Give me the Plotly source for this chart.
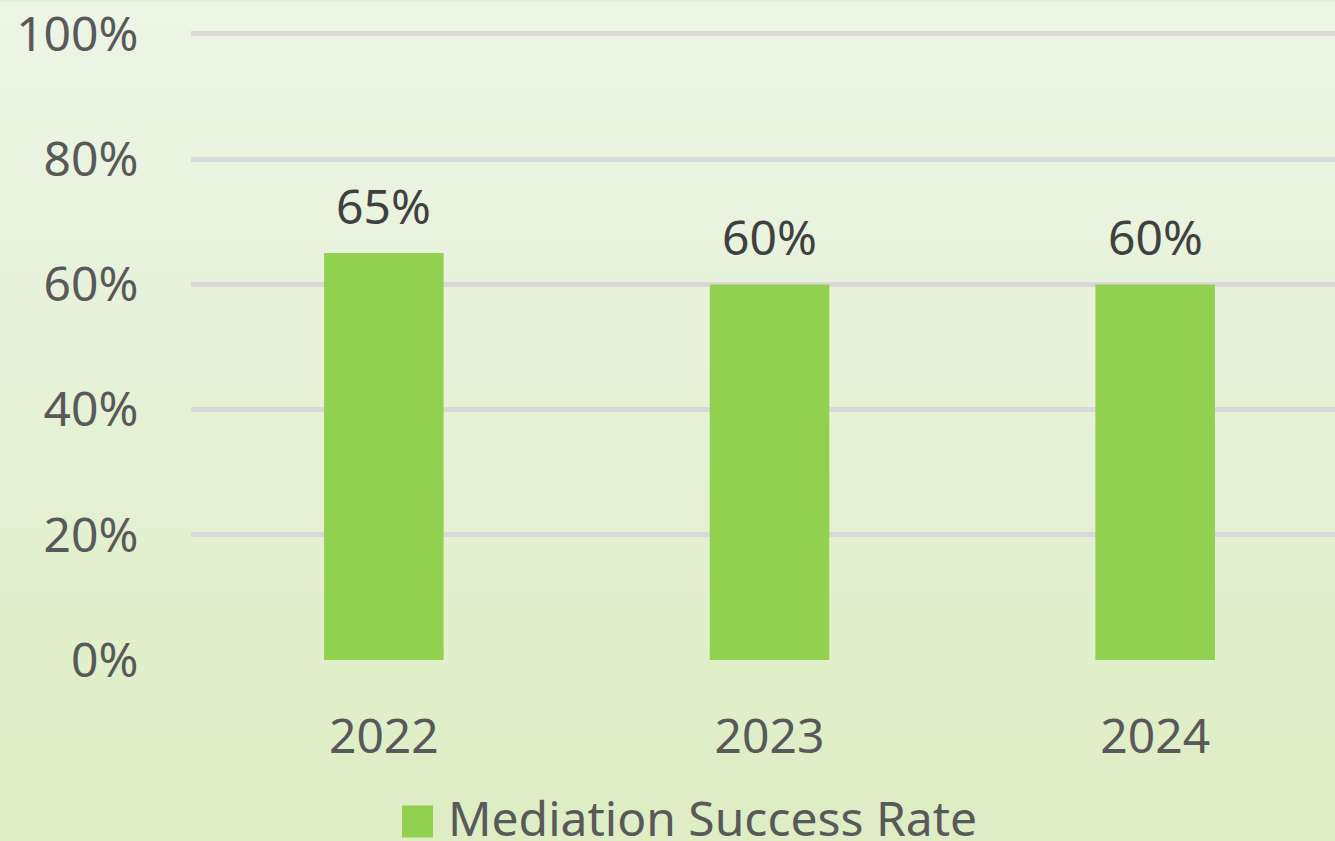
import plotly.graph_objects as go

categories = ["2022", "2023", "2024"]
values = [65, 60, 60]
series_name = "Mediation Success Rate"
y_ticks = [0, 20, 40, 60, 80, 100]
y_tick_text = ["0%", "20%", "40%", "60%", "80%", "100%"]

W, H = 1335, 841
ML, MR, MT, MB = 191, 0, 29, 181
PW, PH = W - ML - MR, H - MT - MB
Y_TOP = 100 * (H - MB - MT) / 628.0

def px_x(px):
    return (px - ML) / PW

def px_y(py):
    return (H - MB - py) / PH

FONT = "Noto Sans"
BAR = "#92D050"

fig = go.Figure()
fig.add_trace(go.Bar(x=categories, y=values, name=series_name,
                     marker=dict(color=BAR, line=dict(width=0)),
                     width=0.31, showlegend=False, hoverinfo="skip"))

shapes = []
top = (237, 245, 230)
bot = (222, 237, 196)
N = 60
for i in range(N):
    t = i / (N - 1)
    c = tuple(round(top[k] + (bot[k] - top[k]) * t) for k in range(3))
    y0 = i * H / N
    y1 = (i + 1) * H / N + 1
    shapes.append(dict(type="rect", xref="paper", yref="paper",
                       x0=px_x(0), x1=px_x(W), y0=px_y(y1), y1=px_y(y0),
                       fillcolor="rgb(%d,%d,%d)" % c, line=dict(width=0),
                       layer="below"))
shapes.append(dict(type="rect", xref="paper", yref="paper",
                   x0=px_x(402), x1=px_x(433), y0=px_y(838), y1=px_y(806),
                   fillcolor=BAR, line=dict(width=0), layer="above"))

annotations = []
for i, (c, v) in enumerate(zip(categories, values)):
    annotations.append(dict(x=i, y=v, xref="x", yref="y", text=f"{v}%",
                            showarrow=False, yanchor="bottom", yshift=13,
                            font=dict(family=FONT, size=48, color="#404040")))
annotations.append(dict(x=px_x(446), y=px_y(818), xref="paper", yref="paper",
                        text=series_name, showarrow=False, xanchor="left",
                        yanchor="middle",
                        font=dict(family=FONT, size=48, color="#595959")))

fig.update_layout(
    width=W, height=H,
    margin=dict(l=ML, r=MR, t=MT, b=MB, pad=0),
    paper_bgcolor="rgb(230,240,215)",
    plot_bgcolor="rgba(0,0,0,0)",
    shapes=shapes,
    annotations=annotations,
    showlegend=False,
    font=dict(family=FONT),
)
fig.update_xaxes(type="category", range=[-0.5, 2.5 - 13 / 385.5],
                 showgrid=False, zeroline=False, showline=False,
                 ticks="outside", ticklen=34, tickcolor="rgba(0,0,0,0)",
                 tickfont=dict(family=FONT, size=48, color="#595959"))
fig.update_yaxes(range=[0, Y_TOP], tickmode="array", tickvals=y_ticks,
                 ticktext=y_tick_text, ticklabeloverflow="allow",
                 showgrid=True, gridcolor="#D9D9D9", gridwidth=5,
                 zeroline=False, showline=False,
                 ticks="outside", ticklen=42, tickcolor="rgba(0,0,0,0)",
                 tickfont=dict(family=FONT, size=48, color="#595959"))

fig.write_html("out.html", config={"displayModeBar": False},
               post_script="document.body.style.margin='0px';")
